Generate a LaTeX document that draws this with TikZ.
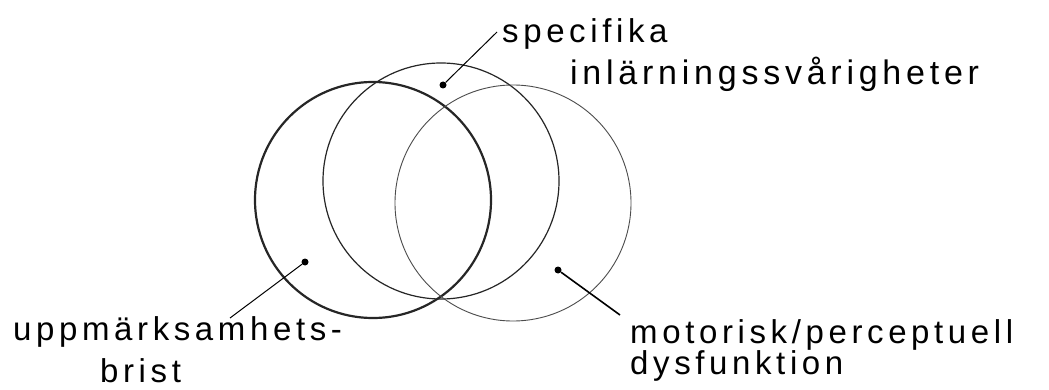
\documentclass[tikz,border=0pt]{standalone}
\usepackage{fontspec}
\newfontfamily\hand[LetterSpace=14]{Liberation Sans}
\begin{document}
\begin{tikzpicture}[x=1pt,y=-1pt,
  ring/.style={draw=black!85, circle, inner sep=0pt, minimum size=236pt},
  dot/.style={circle, fill=black, inner sep=0pt, minimum size=7pt},
  lead/.style={draw=black, line width=1pt},
  lbl/.style={anchor=base west, inner sep=0pt, font=\hand\fontsize{33}{36}\selectfont}]
\useasboundingbox[fill=white] (0,0) rectangle (1049,390);
% circles
\node[ring, line width=2.2pt] (cA) at (373,200) {};
\node[ring, line width=1.2pt] (cB) at (441,181) {};
\node[ring, line width=0.9pt, draw=black!70] (cC) at (513,203) {};
% dots
\node[dot] (dS) at (443,85) {};
\node[dot] (dU) at (305,262) {};
\node[dot] (dM) at (558,270) {};
% labels
\node[lbl] (lS1) at (502,43) {specifika};
\node[lbl, font=\hand\fontsize{34}{37}\selectfont] (lS2) at (570,85) {inlärningssvårigheter};
\node[lbl] (lU1) at (13,340) {uppmärksamhets-};
\node[lbl] (lU2) at (100,382) {brist};
\node[lbl] (lM1) at (630,343) {motorisk/perceptuell};
\node[lbl] (lM2) at (630,374) {dysfunktion};
% leader ends
\coordinate (eS) at (497,32);
\coordinate (eU) at (230,318);
\coordinate (eM) at (620,315);
\draw[lead] (dS) -- (eS);
\draw[lead] (dU) -- (eU);
\draw[lead, line width=1.6pt] (dM) -- (eM);
\end{tikzpicture}
\end{document}
